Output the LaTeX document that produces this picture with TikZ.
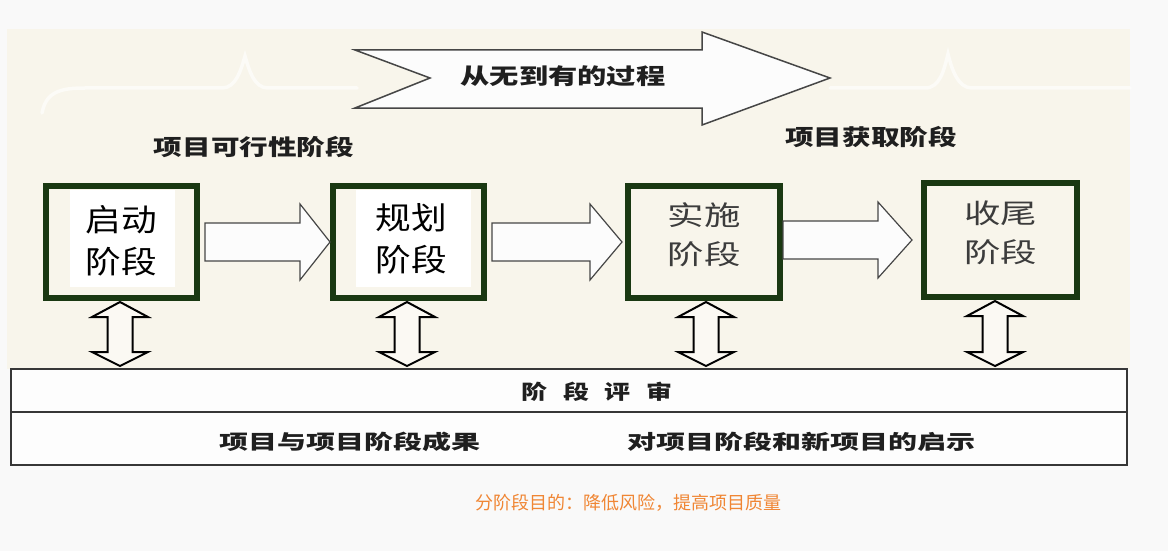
\documentclass[tikz,border=0pt]{standalone}
\usepackage{fontspec}
\usepackage{graphicx}
\usetikzlibrary{calc}
\newfontfamily\cjk{Noto Sans CJK SC}
\definecolor{bg}{RGB}{249,249,249}
\definecolor{panel}{RGB}{248,245,235}
\definecolor{boxgreen}{RGB}{26,56,18}
\definecolor{capor}{RGB}{240,134,52}
\definecolor{tblline}{RGB}{55,55,55}
\definecolor{arrline}{RGB}{70,70,70}
\definecolor{boxtxt}{RGB}{60,60,60}
\tikzset{
  stagebox/.style={draw=boxgreen, line width=6pt, fill=panel, inner sep=0pt, outer sep=0pt},
  lbl/.style={font=\cjk\bfseries\fontsize{22}{26}\selectfont, inner sep=0pt, text=black!88},
  stagetxt/.style={font=\cjk\fontsize{31}{42}\selectfont, inner sep=0pt, align=center, text=black},
  stagetxtb/.style={font=\cjk\fontsize{27}{39}\selectfont, inner sep=0pt, align=center, text=boxtxt},
  tblrow/.style={draw=tblline, line width=1.5pt, fill=white!60!bg, inner sep=0pt, outer sep=0pt},
  tbltxt/.style={font=\cjk\bfseries\fontsize{20}{24}\selectfont, inner sep=0pt, text=black!88},
  hblock/.style={draw=arrline, line width=1.2pt, fill=white!50!bg, line join=miter},
  vblock/.style={draw=black, line width=2pt, fill=white!40!panel, line join=miter},
  bigarrow/.style={draw=arrline, line width=1.5pt, fill=white!50!bg, line join=miter},
  bracestyle/.style={draw=white, line width=3.5pt, opacity=0.6, line cap=round}
}
\newcommand\harr[5]{%
  \draw[hblock] let \p1=($#1+(#3,0)$), \p2=($#2+(#4,0)$) in
    (\x1,\y2+19pt) -- (\x2-#5,\y2+19pt) -- (\x2-#5,\y2+38pt) -- (\x2,\y2)
    -- (\x2-#5,\y2-38pt) -- (\x2-#5,\y2-19pt) -- (\x1,\y2-19pt) -- cycle;}
\newcommand\vdarr[2]{%
  \draw[vblock] let \p1=($(#1.south)+(#2,0)$), \p2=(rev.north) in
    (\x1,\y1-4pt) -- (\x1+28pt,\y1-19pt) -- (\x1+12.5pt,\y1-19pt)
    -- (\x1+12.5pt,\y2+17pt) -- (\x1+28pt,\y2+17pt) -- (\x1,\y2+3pt)
    -- (\x1-28pt,\y2+17pt) -- (\x1-12.5pt,\y2+17pt) -- (\x1-12.5pt,\y1-19pt)
    -- (\x1-28pt,\y1-19pt) -- cycle;}
\begin{document}
\begin{tikzpicture}[x=1pt,y=-1pt]
\path[use as bounding box, fill=bg] (0,0) rectangle (1168,551);
\fill[panel] (7,29) rectangle (1130,369);
% faint braces
\draw[bracestyle] (42,113) .. controls (46,92) and (60,88) .. (85,88) -- (222,88)
  .. controls (236,88) and (241,70) .. (245,56) .. controls (249,70) and (254,88) .. (268,88) -- (357,88);
\draw[bracestyle] (830,88) -- (925,88) .. controls (940,88) and (944,70) .. (948,54)
  .. controls (952,70) and (958,88) .. (972,88) -- (1130,88);
% big arrow
\draw[bigarrow] (355,50) -- (702,50) -- (702,32) -- (830,78) -- (702,125) -- (702,108) -- (355,108) -- (430,78) -- cycle;
\node[lbl] (proc) at (563,76) {\scalebox{1.33}[1]{从无到有的过程}};
\node[lbl] (feas) at (254,147) {\scalebox{1.3}[1]{项目可行性阶段}};
\node[lbl] (acq) at (871,137) {\scalebox{1.3}[1]{项目获取阶段}};
% stage boxes
\node[stagebox, minimum width=151pt, minimum height=112pt] (b1) at (121.5,242) {};
\node[stagebox, minimum width=151pt, minimum height=112pt] (b2) at (408.5,242) {};
\node[stagebox, minimum width=152pt, minimum height=112pt] (b3) at (704,242) {};
\node[stagebox, minimum width=153pt, minimum height=114pt] (b4) at (1000.5,240) {};
\fill[white] ($(b1.center)+(-52,-52)$) rectangle ($(b1.center)+(53,45)$);
\fill[white] ($(b2.center)+(-53,-52)$) rectangle ($(b2.center)+(62,45)$);
\node[stagetxt] (t1) at ($(b1.center)+(0,-1)$) {\scalebox{1.15}[1]{启动}\\\scalebox{1.15}[1]{阶段}};
\node[stagetxt] (t2) at ($(b2.center)+(3,-3)$) {\scalebox{1.15}[1]{规划}\\\scalebox{1.15}[1]{阶段}};
\node[stagetxtb] (t3) at ($(b3.center)+(0,-7)$) {\scalebox{1.35}[1]{实施}\\\scalebox{1.35}[1]{阶段}};
\node[stagetxtb] (t4) at ($(b4.center)+(0,-7)$) {\scalebox{1.35}[1]{收尾}\\\scalebox{1.35}[1]{阶段}};
% horizontal block arrows
\harr{(b1.east)}{(b2.west)}{8}{-3}{30pt}
\harr{(b2.east)}{(b3.west)}{8}{-6}{32pt}
\harr{(b3.east)}{(b4.west)}{3}{-12}{34pt}
% table
\node[tblrow, minimum width=1116pt, minimum height=43pt] (rev) at (569,390.5) {};
\node[tblrow, minimum width=1116pt, minimum height=53pt] (res) at (569,438.5) {};
\node[tbltxt] (revt) at (597,392) {\scalebox{1.3}[1]{阶\hspace{12pt}段\hspace{12pt}评\hspace{12pt}审}};
\node[tbltxt] (r1) at (350,442) {\scalebox{1.45}[1]{项目与项目阶段成果}};
\node[tbltxt] (r2) at (801,442) {\scalebox{1.45}[1]{对项目阶段和新项目的启示}};
% vertical double arrows
\vdarr{b1}{-1.5}
\vdarr{b2}{-1.5}
\vdarr{b3}{2}
\vdarr{b4}{-5.5}
% caption
\node[font=\cjk\fontsize{18}{22}\selectfont, text=capor, inner sep=0pt] (cap) at (628,503) {分阶段目的：降低风险，提高项目质量};
\end{tikzpicture}
\end{document}
